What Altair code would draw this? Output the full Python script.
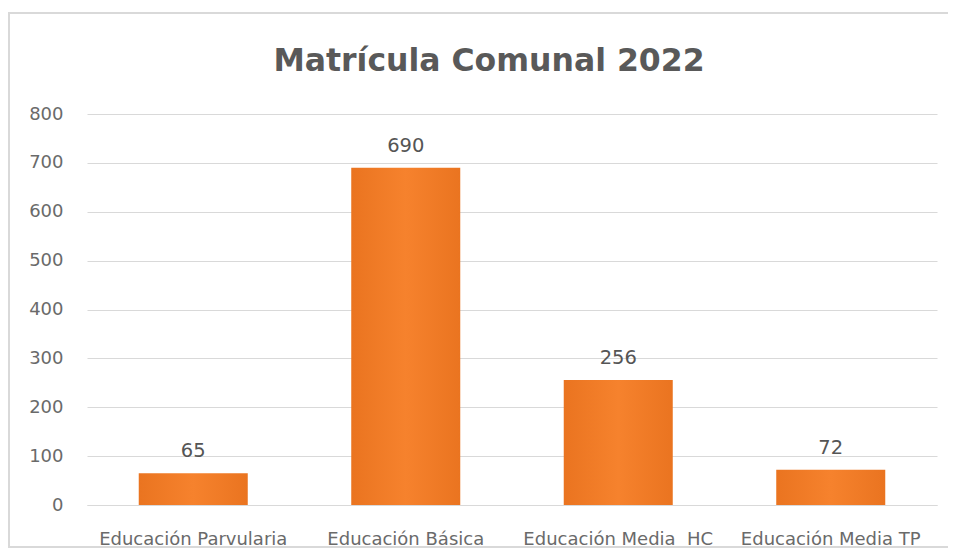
import altair as alt
import pandas as pd

categories = ["Educación Parvularia", "Educación Básica", "Educación Media\u00a0 HC", "Educación Media TP"]
values = [65, 690, 256, 72]
y_ticks = [0, 100, 200, 300, 400, 500, 600, 700, 800]
title_text = "Matrícula Comunal 2022"

df = pd.DataFrame({"cat": categories, "val": values})

FONT = "DejaVu Sans"
GRAY = "#595959"
LGRAY = "#6a6a6a"

base = alt.Chart(df)

border = base.mark_rect(fill=None, stroke="#d9d9d9", strokeWidth=1.5, clip=False).encode(
    x=alt.value(-78), x2=alt.value(880), y=alt.value(-101), y2=alt.value(433)
)

title = alt.Chart(pd.DataFrame({"t": [title_text]})).mark_text(
    font=FONT, fontSize=31.5, fontWeight="bold", color=GRAY, align="center", baseline="middle"
).encode(x=alt.value(402), y=alt.value(-52), text="t:N")

bars = base.mark_bar(
    color={
        "gradient": "linear", "x1": 0, "x2": 1, "y1": 0, "y2": 0,
        "stops": [
            {"offset": 0, "color": "#EA7420"},
            {"offset": 0.5, "color": "#F6822D"},
            {"offset": 1, "color": "#EA7420"},
        ],
    }
).encode(
    x=alt.X("cat:N", sort=categories, scale=alt.Scale(paddingInner=0.487, paddingOuter=0.2435),
            axis=alt.Axis(title=None, labelAngle=0, labelFont=FONT, labelFontSize=18,
                          labelColor=LGRAY, labelPadding=25, labelLimit=0, labelOverlap=False,
                          ticks=False, domain=True, domainColor="#d9d9d9", domainWidth=1.2)),
    y=alt.Y("val:Q", scale=alt.Scale(domain=[0, 800], nice=False),
            axis=alt.Axis(title=None, values=y_ticks, labelFont=FONT, labelFontSize=18,
                          labelColor=LGRAY, labelPadding=24, ticks=False, domain=False,
                          gridColor="#d9d9d9", gridWidth=1.2)),
)

labels = base.mark_text(dy=-22, font=FONT, fontSize=19.5, color="#555555").encode(
    x=alt.X("cat:N", sort=categories), y="val:Q", text="val:Q"
)

chart = alt.layer(border, bars, labels, title).properties(
    width=850, height=391,
    autosize=alt.AutoSizeParams(type="none"),
    padding={"left": 79, "top": 106, "right": 11, "bottom": 44},
).configure_view(stroke=None)

chart.save("out.html", embed_options={"renderer": "svg", "actions": False})
